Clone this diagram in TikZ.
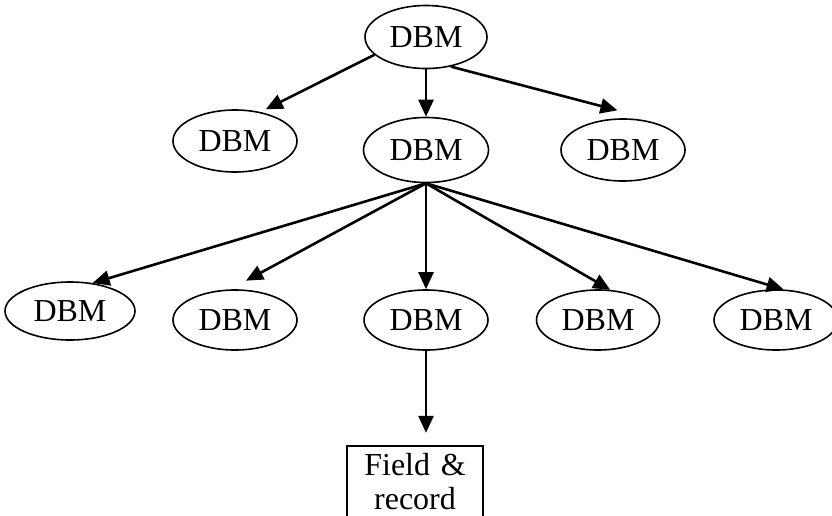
\documentclass[tikz,border=0pt]{standalone}
\usepackage{fontspec}
\setmainfont{Liberation Serif}
\usetikzlibrary{shapes.geometric,arrows.meta}
\tikzset{%
  dbm/.style = {shape=ellipse, draw, line width=1.6pt,
    minimum width=124pt, minimum height=62pt, inner sep=0pt,
    font=\fontsize{32}{36}\selectfont},
  store/.style = {shape=rectangle, draw, line width=1.8pt,
    text width=120pt, align=center, inner xsep=8pt, inner ysep=7pt,
    font=\fontsize{32}{34}\selectfont},
  link/.style = {draw, line width=2.6pt, -{Triangle[length=17pt,width=15pt]}}
}
\begin{document}
\begin{tikzpicture}[x=1pt,y=-1pt]
\clip (0,0) rectangle (832,515);
% top level
\node[dbm, minimum width=122pt, minimum height=63pt] (root) at (426,37) {DBM};
% second level
\node[dbm] (left) at (235,141) {DBM};
\node[dbm, minimum width=125pt, minimum height=65pt] (mid) at (426,150) {DBM};
\node[dbm] (right) at (623,150) {DBM};
% third level
\node[dbm, minimum width=130pt, minimum height=58pt] (a) at (70,311) {DBM};
\node[dbm, minimum height=60pt] (b) at (235,320) {DBM};
\node[dbm, minimum height=60pt] (c) at (426,320) {DBM};
\node[dbm, minimum width=123pt, minimum height=60pt] (d) at (598,320) {DBM};
\node[dbm, minimum height=60pt] (e) at (776,320) {DBM};
% storage
\node[store, anchor=north] (fr) at (415,445) {Field \&\\record};
% links
\draw[link] (root.199) -- ([yshift=4pt]left.42);
\draw[link] (root.south) -- (mid.north);
\draw[link] (root.-50) -- ([yshift=8pt]right.100);
\draw[link] (mid.south) -- (a.51);
\draw[link] (mid.south) -- ([yshift=9pt]b.70);
\draw[link] (mid.south) -- (c.north);
\draw[link] (mid.south) -- (d.68);
\draw[link] (mid.south) -- (e.76);
\draw[link] (c.south) -- ++(0,82) coordinate (cend);
\end{tikzpicture}
\end{document}
